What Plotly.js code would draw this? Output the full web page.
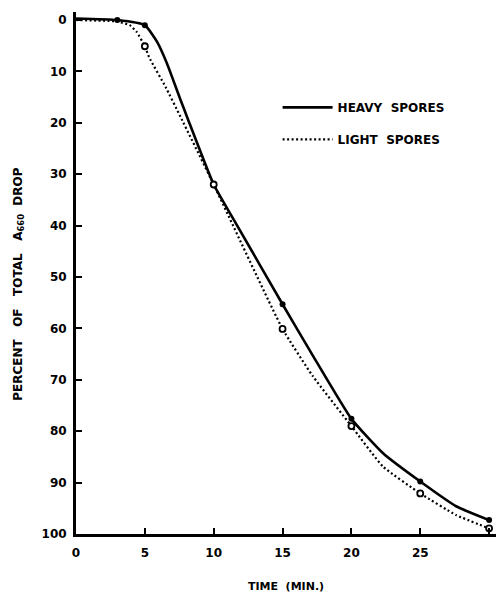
<!DOCTYPE html>
<html>
<head>
<meta charset="utf-8">
<script src="https://cdn.plot.ly/plotly-3.0.1.min.js"></script>
<style>
html,body{margin:0;padding:0;background:#fff;}
#chart{width:496px;height:607px;}
</style>
</head>
<body>
<div id="chart"></div>
<script>
// Measured points (time in min, percent of total A660 drop)
var heavyTime = [3, 5, 10, 15, 20, 25, 30];
var heavyDrop = [0, 1, 32, 55.3, 77.6, 89.8, 97.3];
var lightTime = [5, 10, 15, 20, 25, 30];
var lightDrop = [5.1, 32, 60.1, 79, 92.1, 98.9];

// Hand-drawn curves
var heavyCurveTime = [0, 3, 5, 5.9, 6.6, 7.6, 8.1, 10, 11.6, 15, 17.2, 20, 22.3, 25, 27.6, 30];
var heavyCurveDrop = [-0.3, 0, 1, 4.3, 8.4, 15.6, 19.1, 32, 39.5, 55.3, 65.3, 77.6, 84.3, 89.8, 94.6, 97.3];
var lightCurveTime = [0, 3, 3.9, 4.4, 5, 5.3, 6.5, 7.6, 10, 15, 17.2, 20, 22.3, 25, 27.6, 30];
var lightCurveDrop = [0, 0.3, 1, 2.3, 5.1, 7.2, 13, 18.9, 32, 60.1, 69.3, 79, 86.9, 92.1, 96.3, 98.9];

var xTicks = [0, 5, 10, 15, 20, 25, 30];
var yTicks = [0, 10, 20, 30, 40, 50, 60, 70, 80, 90, 100];
var seriesNames = ['HEAVY  SPORES', 'LIGHT  SPORES'];
var xTitle = 'TIME  (MIN.)';
var yTitle = 'PERCENT   OF   TOTAL   A<sub>660</sub>  DROP';

var F = 'DejaVu Sans, Liberation Sans, sans-serif';

var traces = [
  {x: heavyCurveTime, y: heavyCurveDrop, mode: 'lines', name: seriesNames[0], legendgroup: 'h',
   line: {color: '#000', width: 2.6, shape: 'spline', smoothing: 0.45}},
  {x: lightCurveTime, y: lightCurveDrop, mode: 'lines', name: seriesNames[1], legendgroup: 'l',
   line: {color: '#000', width: 2.2, dash: '2px,2.5px', shape: 'spline', smoothing: 0.45}},
  {x: heavyTime, y: heavyDrop, mode: 'markers', showlegend: false,
   marker: {color: '#000', size: 6, line: {width: 0}}},
  {x: lightTime, y: lightDrop, mode: 'markers', showlegend: false,
   marker: {color: '#fff', size: 6, line: {color: '#000', width: 1.8}}}
];

var layout = {
  width: 496, height: 607,
  margin: {l: 76, r: 0, t: 12, b: 73},
  paper_bgcolor: '#fff', plot_bgcolor: '#fff',
  font: {family: F, color: '#000', size: 12, weight: 'bold'},
  showlegend: true,
  legend: {x: 0.48, y: 0.845, xanchor: 'left', yanchor: 'top', bgcolor: 'rgba(0,0,0,0)',
           font: {family: F, size: 12, weight: 'bold'}, traceorder: 'grouped', tracegroupgap: 13,
           itemwidth: 50},
  xaxis: {range: [0, 30.5], tickvals: xTicks, ticktext: xTicks.map(String),
          showgrid: false, zeroline: false, showline: true, linecolor: '#000', linewidth: 3,
          ticks: 'inside', ticklen: 6, tickwidth: 2, tickcolor: '#000', ticklabelstandoff: 6,
          tickfont: {family: F, size: 12, weight: 'bold'},
          title: {text: xTitle, font: {family: F, size: 11, weight: 'bold'}, standoff: 23}},
  yaxis: {range: [100, -1.56], tickvals: yTicks, ticktext: yTicks.map(String),
          showgrid: false, zeroline: false, showline: true, linecolor: '#000', linewidth: 3,
          ticks: 'inside', ticklen: 6, tickwidth: 2, tickcolor: '#000', ticklabelstandoff: 4,
          tickfont: {family: F, size: 12, weight: 'bold'}},
  annotations: [
    {text: yTitle, xref: 'paper', yref: 'paper', x: -0.136, y: 0.479, xanchor: 'center', yanchor: 'middle',
     textangle: -90, showarrow: false, font: {family: F, size: 12, weight: 'bold'}}
  ]
};

Plotly.newPlot('chart', traces, layout, {displayModeBar: false, staticPlot: true});
</script>
</body>
</html>
